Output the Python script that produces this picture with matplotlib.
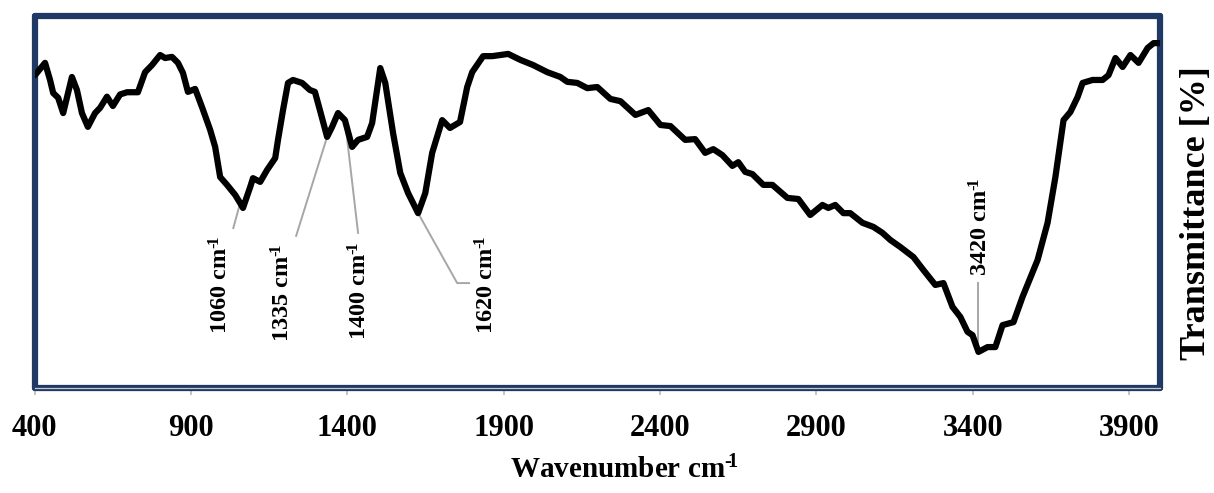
import numpy as np
import matplotlib
matplotlib.use("Agg")
import matplotlib.pyplot as plt

plt.rcParams["font.family"] = ["Liberation Serif", "DejaVu Serif"]
plt.rcParams["font.weight"] = "bold"
plt.rcParams["mathtext.fontset"] = "custom"
plt.rcParams["mathtext.rm"] = "Liberation Serif:bold"
plt.rcParams["mathtext.bf"] = "Liberation Serif:bold"
plt.rcParams["mathtext.default"] = "bf"

# spectrum (wavenumber cm-1, transmittance in arbitrary %)
wavenumber = [
    401, 433, 449, 459, 475, 491, 519, 535, 551, 570, 593, 609, 631, 650, 673,
    695, 711, 730, 753, 775, 801, 817, 839, 858, 874, 890, 913, 935, 961, 977,
    993, 1015, 1041, 1057, 1066, 1089, 1098, 1121, 1143, 1169, 1178, 1194, 1210,
    1226, 1255, 1280, 1296, 1312, 1335, 1351, 1370, 1392, 1415, 1434, 1463, 1479,
    1505, 1521, 1546, 1569, 1594, 1626, 1649, 1671, 1703, 1728, 1760, 1783, 1799,
    1834, 1863, 1914, 1953, 1994, 2039, 2081, 2103, 2135, 2167, 2199, 2241, 2273,
    2321, 2362, 2401, 2433, 2480, 2512, 2544, 2570, 2599, 2631, 2650, 2672, 2695,
    2730, 2759, 2807, 2842, 2880, 2919, 2938, 2960, 2986, 3008, 3047, 3082, 3111,
    3136, 3168, 3210, 3242, 3280, 3306, 3335, 3360, 3383, 3399, 3418, 3447, 3472,
    3495, 3530, 3559, 3607, 3639, 3664, 3690, 3712, 3735, 3751, 3783, 3815, 3834,
    3856, 3879, 3904, 3930, 3959, 3978, 4000,
]
transmittance = [
    84.1, 87.4, 82.8, 79.3, 78.0, 73.9, 83.6, 80.1, 73.9, 70.2, 73.9, 75.3, 78.3,
    75.8, 78.9, 79.5, 79.5, 79.5, 84.9, 86.8, 89.5, 88.7, 89.0, 87.4, 84.7, 79.6,
    80.4, 75.5, 69.4, 64.8, 56.7, 54.6, 51.9, 49.7, 48.4, 54.0, 56.4, 55.4, 58.6,
    61.8, 66.7, 74.7, 82.0, 82.8, 82.0, 80.1, 79.6, 74.7, 67.5, 70.2, 73.9, 72.0,
    64.8, 66.7, 67.5, 71.2, 86.0, 82.0, 68.5, 57.8, 52.4, 47.0, 52.4, 63.2, 72.0,
    69.9, 71.5, 80.9, 84.9, 89.2, 89.2, 89.8, 88.2, 86.8, 84.9, 83.6, 82.3, 82.0,
    80.6, 80.9, 77.7, 77.1, 73.4, 74.7, 70.7, 70.4, 66.7, 66.9, 63.2, 64.2, 62.6,
    59.7, 60.7, 58.1, 57.5, 54.6, 54.6, 51.1, 50.8, 46.5, 49.2, 48.4, 49.2, 47.0,
    47.0, 44.4, 43.3, 41.7, 39.8, 37.9, 35.2, 31.7, 27.7, 28.2, 21.8, 19.1, 15.1,
    14.2, 9.7, 11.0, 11.0, 16.9, 17.7, 24.5, 34.4, 44.4, 56.7, 72.0, 74.2, 78.2,
    82.0, 82.8, 82.8, 84.1, 88.7, 86.3, 89.5, 87.4, 91.4, 92.7, 92.7,
]

xticks = [400, 900, 1400, 1900, 2400, 2900, 3400, 3900]

# peak labels: band, label centre, and the bend points of each leader line
peaks = [1060, 1335, 1400, 1620, 3420]
label_x = [996, 1194, 1440, 1846, 3425]
label_y = [27.7, 25.5, 26.1, 27.7, 43.3]
leader_x = [[1035], [1236], [1434], [1789, 1751], [3418]]
leader_y = [[43.0], [40.9], [41.7], [28.2, 28.2], [28.2]]

NAVY = "#203864"
GREY = "#a6a6a6"
SUP = "cm$^{\u2010\\!1}$"  # hyphen-style superscript like the original

fig = plt.figure(figsize=(12.14, 4.93), dpi=100)
ax = fig.add_axes([0.0286, 0.213, 0.9273, 0.7546])

wn = np.array(wavenumber, dtype=float)
tr = np.array(transmittance, dtype=float)
ax.plot(wn, tr, color="black", lw=4.5, solid_joinstyle="round",
        solid_capstyle="round", zorder=3)

# leader lines + rotated peak labels
for k, band in enumerate(peaks):
    i = int(np.argmin(np.abs(wn - band)))
    xs = leader_x[k] + [wn[i]]
    ys = leader_y[k] + [tr[i]]
    ax.plot(xs, ys, color=GREY, lw=1.4, zorder=2)
    ax.text(label_x[k], label_y[k], f"{band} " + SUP, rotation=90,
            ha="center", va="center", fontsize=17.5, fontweight="bold")

ax.set_xlim(400, 4000)
ax.set_ylim(0, 100)
ax.set_xticks(xticks)
ax.set_xticklabels([str(t) for t in xticks], fontsize=22, fontweight="bold")
ax.set_yticks([])
ax.tick_params(axis="x", direction="out", length=5, width=1.3,
               color="#bfbfbf", pad=14)

for s in ax.spines.values():
    s.set_color(NAVY)
    s.set_linewidth(4.5)
    s.set_capstyle("round")
ax.axhline(0, color="#c8c8c8", lw=0.9, zorder=4, clip_on=False)

fig.text(624 / 1214, 23 / 493, "Wavenumber " + SUP, ha="center",
         va="center", fontsize=21, fontweight="bold")
fig.text(1196 / 1214, 0.568, "Transmittance [%]", rotation=90, ha="center",
         va="center", fontsize=26, fontweight="bold")

fig.savefig("out.png", dpi=100)
